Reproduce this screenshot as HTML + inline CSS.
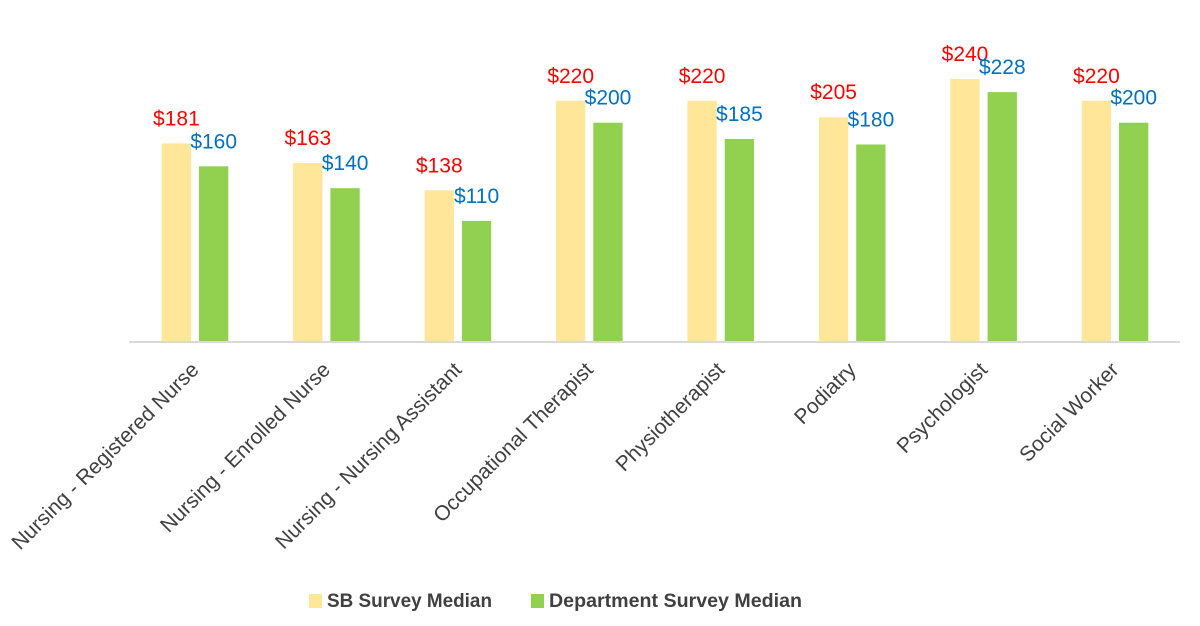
<!DOCTYPE html>
<html>
<head>
<meta charset="utf-8">
<style>
  html, body { margin: 0; padding: 0; background: #ffffff; }
  svg { display: block; }
  text { font-family: "Liberation Sans", "DejaVu Sans", sans-serif; }
</style>
</head>
<body>
<svg width="1200" height="626" viewBox="0 0 1200 626" xmlns="http://www.w3.org/2000/svg">
  <rect x="0" y="0" width="1200" height="626" fill="#ffffff"/>

  <!-- Bars: SB (yellow) and Department (green) -->
  <g>
    <rect x="161.7" y="143.4" width="29.3" height="197.6" fill="#FFE699"/>
    <rect x="199.0" y="166.3" width="29.3" height="174.7" fill="#92D050"/>
    <rect x="293.1" y="163.0" width="29.3" height="178.0" fill="#FFE699"/>
    <rect x="330.4" y="188.2" width="29.3" height="152.8" fill="#92D050"/>
    <rect x="424.6" y="190.3" width="29.3" height="150.7" fill="#FFE699"/>
    <rect x="461.9" y="220.9" width="29.3" height="120.1" fill="#92D050"/>
    <rect x="556.0" y="100.8" width="29.3" height="240.2" fill="#FFE699"/>
    <rect x="593.3" y="122.7" width="29.3" height="218.3" fill="#92D050"/>
    <rect x="687.4" y="100.8" width="29.3" height="240.2" fill="#FFE699"/>
    <rect x="724.7" y="139.0" width="29.3" height="202.0" fill="#92D050"/>
    <rect x="818.9" y="117.2" width="29.3" height="223.8" fill="#FFE699"/>
    <rect x="856.2" y="144.5" width="29.3" height="196.5" fill="#92D050"/>
    <rect x="950.3" y="79.0" width="29.3" height="262.0" fill="#FFE699"/>
    <rect x="987.6" y="92.1" width="29.3" height="248.9" fill="#92D050"/>
    <rect x="1081.7" y="100.8" width="29.3" height="240.2" fill="#FFE699"/>
    <rect x="1119.0" y="122.7" width="29.3" height="218.3" fill="#92D050"/>
  </g>

  <!-- Axis line -->
  <rect x="129" y="341" width="1051" height="2" fill="#D9D9D9"/>

  <!-- Value labels -->
  <g font-size="21" text-anchor="middle">
    <text x="176.4" y="125.4" fill="#FF0000">$181</text>
    <text x="213.7" y="148.3" fill="#0070C0">$160</text>

    <text x="307.8" y="145.0" fill="#FF0000">$163</text>
    <text x="345.1" y="170.2" fill="#0070C0">$140</text>

    <text x="439.3" y="172.3" fill="#FF0000">$138</text>
    <text x="476.6" y="202.9" fill="#0070C0">$110</text>

    <text x="570.7" y="82.8" fill="#FF0000">$220</text>
    <text x="608.0" y="104.7" fill="#0070C0">$200</text>

    <text x="702.1" y="82.8" fill="#FF0000">$220</text>
    <text x="739.4" y="121.0" fill="#0070C0">$185</text>

    <text x="833.6" y="99.2" fill="#FF0000">$205</text>
    <text x="870.9" y="126.5" fill="#0070C0">$180</text>

    <text x="965.0" y="61.0" fill="#FF0000">$240</text>
    <text x="1002.3" y="74.1" fill="#0070C0">$228</text>

    <text x="1096.4" y="82.8" fill="#FF0000">$220</text>
    <text x="1133.7" y="104.7" fill="#0070C0">$200</text>
  </g>

  <!-- Category labels (rotated -45°) -->
  <g font-size="21" fill="#404040" text-anchor="end">
    <text x="200" y="371" transform="rotate(-45 200 371)">Nursing - Registered Nurse</text>
    <text x="331.4" y="371" transform="rotate(-45 331.4 371)">Nursing - Enrolled Nurse</text>
    <text x="462.9" y="371" transform="rotate(-45 462.9 371)">Nursing - Nursing Assistant</text>
    <text x="594.3" y="371" transform="rotate(-45 594.3 371)">Occupational Therapist</text>
    <text x="725.7" y="371" transform="rotate(-45 725.7 371)">Physiotherapist</text>
    <text x="857.2" y="371" transform="rotate(-45 857.2 371)">Podiatry</text>
    <text x="988.6" y="371" transform="rotate(-45 988.6 371)">Psychologist</text>
    <text x="1120.0" y="371" transform="rotate(-45 1120.0 371)">Social Worker</text>
  </g>

  <!-- Legend -->
  <rect x="309" y="594" width="13" height="14" fill="#FFE699"/>
  <text x="327" y="607" font-size="19" font-weight="bold" fill="#404040" textLength="165" lengthAdjust="spacingAndGlyphs">SB Survey Median</text>
  <rect x="531" y="594" width="13" height="14" fill="#92D050"/>
  <text x="549" y="607" font-size="19" font-weight="bold" fill="#404040" textLength="253" lengthAdjust="spacingAndGlyphs">Department Survey Median</text>
</svg>
</body>
</html>
